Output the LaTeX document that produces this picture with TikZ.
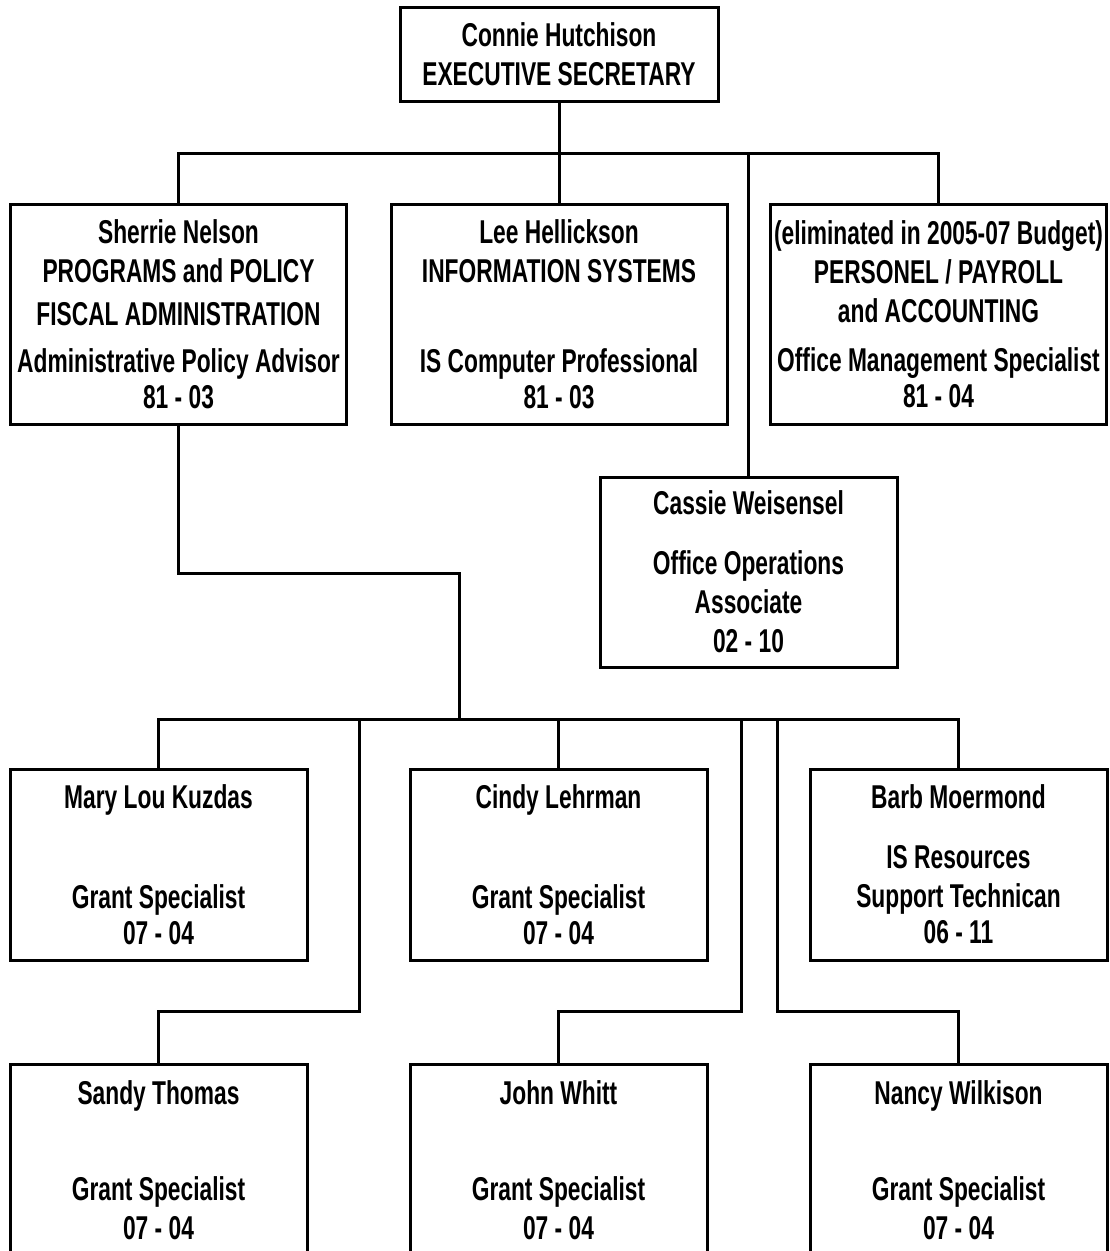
\documentclass[tikz,border=0pt]{standalone}
\usepackage{fontspec}
\setmainfont{Liberation Sans}[FakeStretch=0.69]
\newcommand{\chartfont}{\fontsize{33}{39}\selectfont\bfseries}

\begin{document}
\begin{tikzpicture} [x=1pt, y=-1pt, line width=3pt,
    every node/.style={draw, inner sep=0pt, align=center, font=\chartfont},
    headbox/.style={minimum width=318pt, minimum height=94pt},
    widebox/.style={minimum width=336pt, minimum height=220pt},
    staffbox/.style={minimum width=297pt, minimum height=191pt}]
  \useasboundingbox (0,0) rectangle (1110,1251);

  % top
  \node [headbox] (connie) at (559,54) {Connie Hutchison\\EXECUTIVE SECRETARY};

  % first row
  \node [widebox] (sherrie) at (178.5,314) {Sherrie Nelson\\PROGRAMS and POLICY\\[4pt]FISCAL ADMINISTRATION\\[8pt]Administrative Policy Advisor\\[-3pt]81 - 03};
  \node [widebox] (lee) at (559,314) {Lee Hellickson\\INFORMATION SYSTEMS\\[51pt]IS Computer Professional\\[-3pt]81 - 03};
  \node [widebox] (payroll) at (938.5,314) {(eliminated in 2005-07 Budget)\\PERSONEL / PAYROLL\\and ACCOUNTING\\[10pt]Office Management Specialist\\[-3pt]81 - 04};
  \node [staffbox, minimum height=190pt] (cassie) at (748.5,572) {Cassie Weisensel\\[21pt]Office Operations\\Associate\\02 - 10};

  % grant staff
  \node [staffbox] (mary) at (158.5,864.5) {Mary Lou Kuzdas\\[61pt]Grant Specialist\\[-3pt]07 - 04};
  \node [staffbox] (cindy) at (558.5,864.5) {Cindy Lehrman\\[61pt]Grant Specialist\\[-3pt]07 - 04};
  \node [staffbox] (barb) at (958.5,864.5) {Barb Moermond\\[21pt]IS Resources\\Support Technican\\[-3pt]06 - 11};
  \node [staffbox, minimum height=192pt] (sandy) at (158.5,1160) {Sandy Thomas\\[57pt]Grant Specialist\\07 - 04};
  \node [staffbox, minimum height=192pt] (john) at (558.5,1160) {John Whitt\\[57pt]Grant Specialist\\07 - 04};
  \node [staffbox, minimum height=192pt] (nancy) at (958.5,1160) {Nancy Wilkison\\[57pt]Grant Specialist\\07 - 04};

  \coordinate (bar1) at (559,153);
  \coordinate (bar2) at (459,719);
  \coordinate (s1) at (359,719);
  \coordinate (j1) at (741,719);
  \coordinate (n1) at (777,719);

  \draw (connie.south) -- (lee.north);
  \draw (sherrie.north) |- (bar1) -| (payroll.north);
  \draw (cassie.north) -- (cassie.north |- bar1);
  \draw (sherrie.south) -- ++(0,148) -| (bar2);
  \draw (mary.north) |- (bar2) -| (barb.north);
  \draw (cindy.north) -- (cindy.north |- bar2);
  \draw (sandy.north) -- ++(0,-51) -| (s1);
  \draw (john.north) -- ++(0,-51) -| (j1);
  \draw (nancy.north) -- ++(0,-51) -| (n1);
\end{tikzpicture}
\end{document}
